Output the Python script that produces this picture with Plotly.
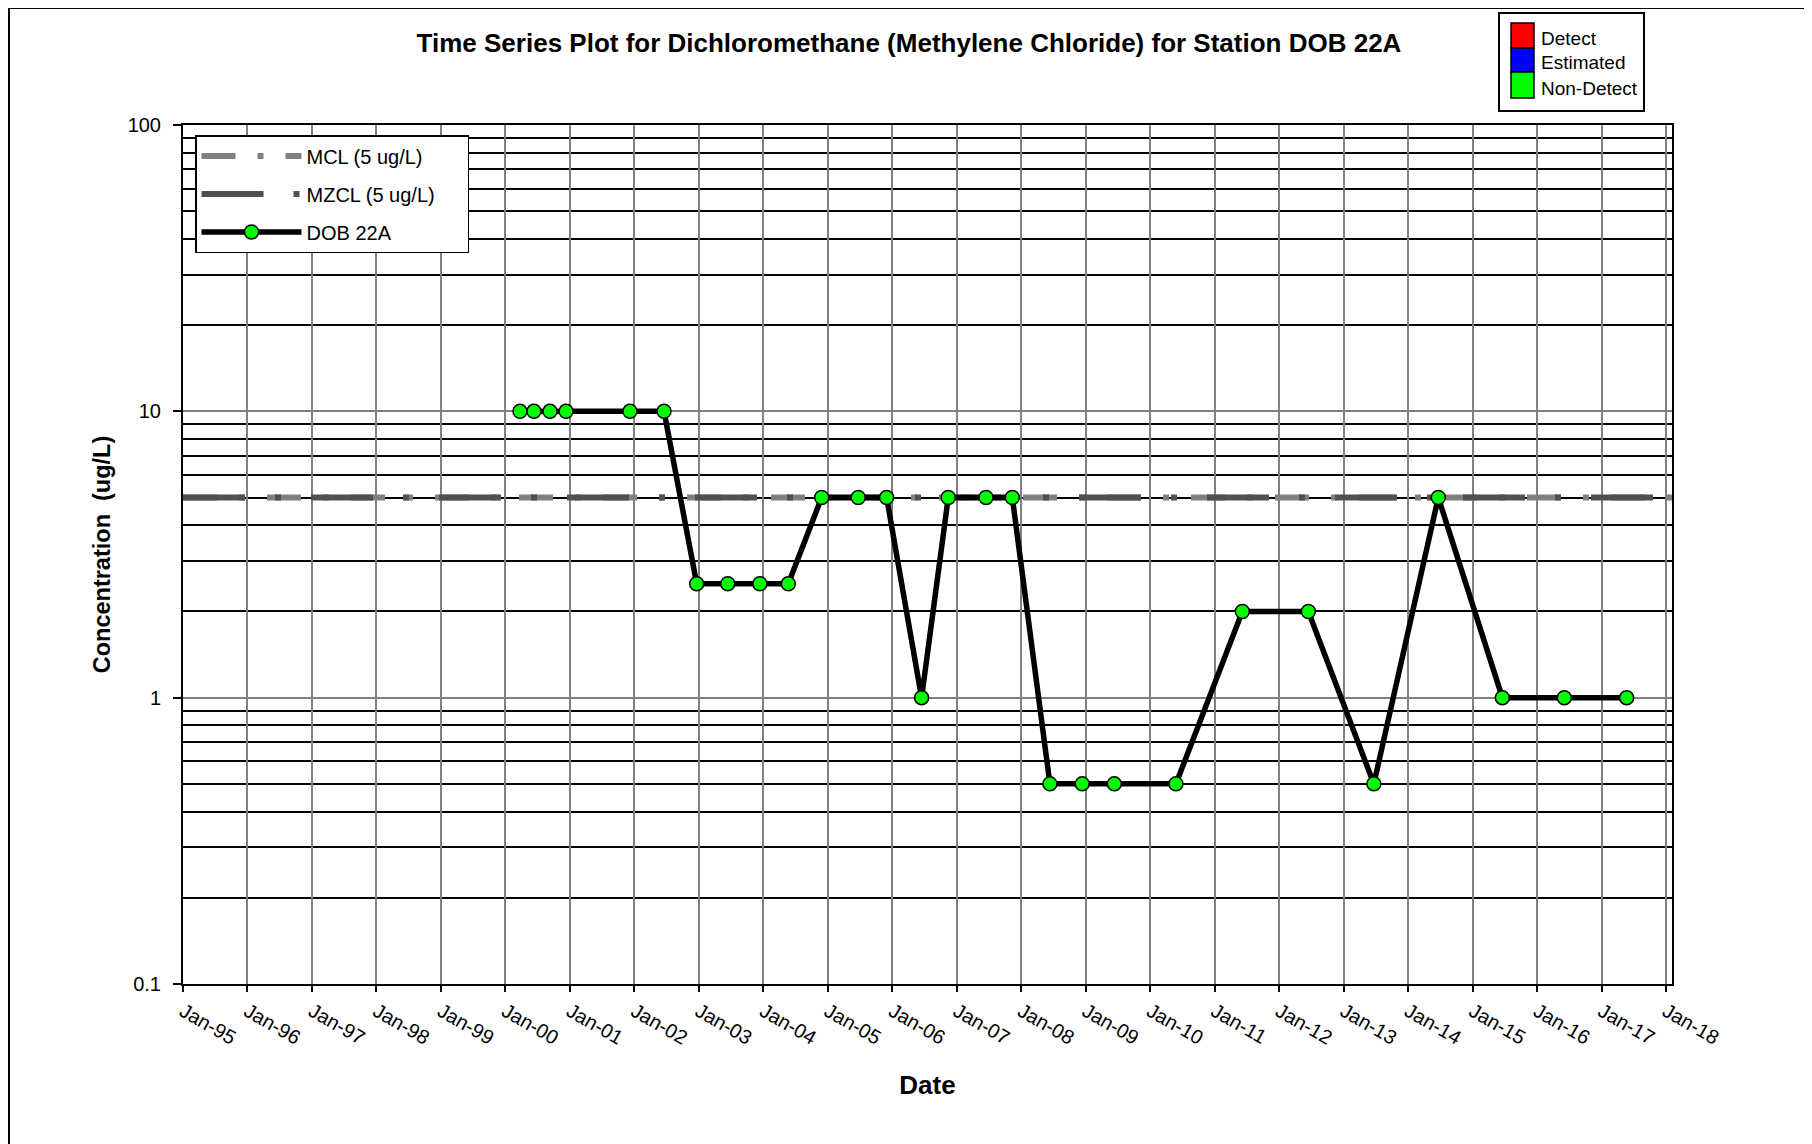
import plotly.graph_objects as go

# sample dates and concentrations (ug/L) for DOB 22A, all non-detects
dates = [
    "2000-03-24", "2000-06-11", "2000-09-10", "2000-12-10", "2001-12-07", "2002-06-18",
    "2002-12-20", "2003-06-14", "2003-12-13", "2004-05-22",
    "2004-11-27", "2005-06-22", "2005-11-30", "2006-06-16",
    "2006-11-14", "2007-06-16", "2007-11-12",
    "2008-06-12", "2008-12-12", "2009-06-12", "2010-05-27",
    "2011-06-07", "2012-06-15", "2013-06-21", "2014-06-21",
    "2015-06-19", "2016-06-04", "2017-05-23",
]
conc = [
    10, 10, 10, 10, 10, 10,
    2.5, 2.5, 2.5, 2.5,
    5, 5, 5, 1,
    5, 5, 5,
    0.5, 0.5, 0.5, 0.5,
    2, 2, 0.5, 5,
    1, 1, 1,
]

# regulatory limits drawn across the whole period
limit_dates = ["1995-01-01", "2018-02-04"]
mcl = [5, 5]
mzcl = [5, 5]

status_names = ["Detect", "Estimated", "Non-Detect"]
status_colors = ["#FF0000", "#0000FF", "#00FF00"]

# page has an 8px body margin, so the figure sits at (8, 8)
OFF = 8
W, H = 1804, 1136
L, R, T, B = 183 - OFF, 1672 - OFF, 125 - OFF, 984 - OFF  # plot area
FONT = "Liberation Sans, Arial, sans-serif"
NB = "\u00a0"


def px_x(p):
    # page pixel -> paper x
    return (p - OFF - L) / (R - L)


def px_y(p):
    # page pixel -> paper y
    return (B - (p - OFF)) / (B - T)


fig = go.Figure()
fig.add_trace(go.Scatter(
    x=limit_dates, y=mcl, mode="lines", name="MCL (5 ug/L)" + NB * 5, legendgroup="a",
    line=dict(color="#808080", width=6, dash="34px,22px,6px,22px"),
))
fig.add_trace(go.Scatter(
    x=limit_dates, y=mzcl, mode="lines", name="MZCL (5 ug/L)" + NB * 5, legendgroup="b",
    line=dict(color="#505050", width=6, dash="62px,30px,6px,30px"),
))
fig.add_trace(go.Scatter(
    x=dates, y=conc, mode="lines+markers", name="DOB 22A", legendgroup="c",
    line=dict(color="black", width=5.5),
    marker=dict(color=status_colors[2], size=14, line=dict(color="black", width=1.5)),
))

shapes = [
    # outer frame
    dict(type="rect", xref="paper", yref="paper", x0=px_x(9), x1=px_x(1806),
         y0=px_y(1170), y1=px_y(8), line=dict(color="black", width=2), layer="below"),
    # status legend box
    dict(type="rect", xref="paper", yref="paper", x0=px_x(1499), x1=px_x(1644),
         y0=px_y(111), y1=px_y(13), line=dict(color="black", width=2), fillcolor="white"),
]
annotations = []
tops = [23, 48, 72]
bots = [48, 72, 98]
for name, col, t, b in zip(status_names, status_colors, tops, bots):
    shapes.append(dict(type="rect", xref="paper", yref="paper", x0=px_x(1511), x1=px_x(1534),
                       y0=px_y(b), y1=px_y(t), fillcolor=col, line=dict(color="black", width=1.5)))
    annotations.append(dict(text=name, xref="paper", yref="paper", x=px_x(1539), y=px_y((t + b) / 2 + 3),
                            xanchor="left", yanchor="middle", showarrow=False,
                            font=dict(family=FONT, size=19, color="black")))

fig.update_layout(
    width=W, height=H,
    margin=dict(l=L, r=W - R, t=T, b=H - B, autoexpand=False),
    paper_bgcolor="white", plot_bgcolor="white",
    font=dict(family=FONT, color="black"),
    title=dict(
        text="Time Series Plot for Dichloromethane (Methylene Chloride) for Station DOB 22A",
        font=dict(family=FONT, size=26, color="black", weight="bold"),
        x=px_x(909), xref="paper", xanchor="center", y=1 - (43 - OFF) / H, yanchor="middle",
    ),
    showlegend=True,
    legend=dict(
        x=px_x(195), y=px_y(135), xanchor="left", yanchor="top",
        bgcolor="white", bordercolor="black", borderwidth=1.5,
        font=dict(family=FONT, size=20, color="black"),
        tracegroupgap=9, itemwidth=100,
    ),
    shapes=shapes,
    annotations=annotations,
)

fig.update_xaxes(
    type="date", range=["1995-01-01", "2018-02-04"],
    tick0="1995-01-01", dtick="M12", tickformat="%b-%y", tickangle=30,
    tickfont=dict(family=FONT, size=20, color="black"),
    showgrid=True, gridcolor="#808080", gridwidth=1.5,
    showline=True, linecolor="black", linewidth=2, mirror=True,
    ticks="outside", ticklen=6, tickwidth=1.5, tickcolor="black",
    title=dict(text="Date", font=dict(family=FONT, size=26, color="black", weight="bold"), standoff=28),
    automargin=False, zeroline=False,
)
fig.update_yaxes(
    type="log", range=[-1, 2], dtick=1, tickformat="~g",
    tickfont=dict(family=FONT, size=20, color="black"),
    showgrid=True, gridcolor="#808080", gridwidth=1.5,
    minor=dict(dtick="D1", showgrid=True, gridcolor="black", gridwidth=1.5, ticks=""),
    showline=True, linecolor="black", linewidth=2, mirror=True,
    ticks="outside", ticklen=8, tickwidth=1.5, tickcolor="black", ticklabelstandoff=8,
    title=dict(text="Concentration  (ug/L)", font=dict(family=FONT, size=23.5, color="black", weight="bold"),
               standoff=10),
    automargin=False, zeroline=False,
)

fig.write_html("out.html")
